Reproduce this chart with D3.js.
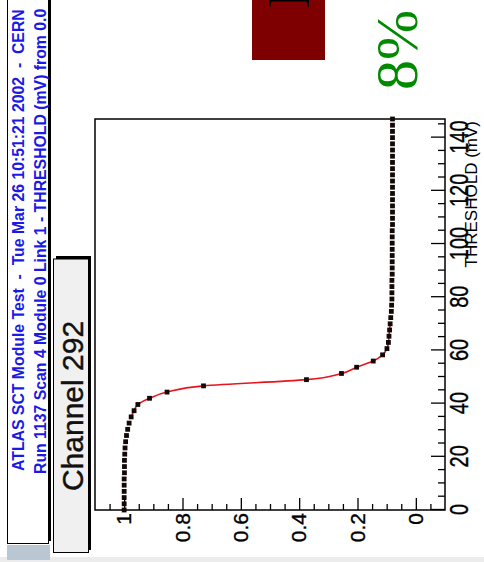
<!DOCTYPE html>
<html>
<head>
<meta charset="utf-8">
<script src="https://cdn.jsdelivr.net/npm/d3@7"></script>
<style>
  html, body { margin: 0; padding: 0; background: #fff; overflow: hidden; }
  svg { display: block; }
  text { white-space: pre; }
</style>
</head>
<body>
<svg id="chart" width="484" height="562"></svg>
<script>
// Threshold scan of one strip: occupancy vs. threshold (mV)
const thresholds = [0, 2.33, 4.67, 7, 9.33, 11.67, 14, 16.33, 18.67, 21, 23.33, 25.67,
  28, 30.33, 32.67, 35, 37.33, 39.67, 42, 44.33, 46.67, 49, 51.33, 53.67, 56, 58.33,
  60.67, 63, 65.33, 67.67, 70, 72.33, 74.67, 77, 79.33, 81.67, 84, 86.33, 88.67, 91,
  93.33, 95.67, 98, 100.33, 102.67, 105, 107.33, 109.67, 112, 114.33, 116.67, 119,
  121.33, 123.67, 126, 128.33, 130.67, 133, 135.33, 137.67, 140, 142.33, 144.67, 147];

const occupancy = [1.000, 1.000, 1.000, 1.000, 1.000, 1.000, 0.999, 0.999, 0.999, 0.998,
  0.997, 0.995, 0.992, 0.988, 0.983, 0.976, 0.966, 0.953, 0.913, 0.853, 0.728, 0.375,
  0.255, 0.203, 0.146, 0.114, 0.099, 0.094, 0.092, 0.090, 0.088, 0.086, 0.084, 0.083,
  0.082, 0.082, 0.082, 0.082, 0.081, 0.081, 0.081, 0.081, 0.081, 0.081, 0.081, 0.081,
  0.080, 0.080, 0.080, 0.080, 0.080, 0.080, 0.080, 0.080, 0.080, 0.080, 0.080, 0.080,
  0.080, 0.080, 0.080, 0.080, 0.080, 0.080];

// Range of thresholds covered by the error-function fit
const fitRange = [35, 70];

const thresholdTicks = [0, 20, 40, 60, 80, 100, 120, 140];
const occupancyTicks = [0, 0.2, 0.4, 0.6, 0.8, 1];

const titleLines = [
  "ATLAS SCT Module Test  -  Tue Mar 26 10:51:21 2002  -  CERN",
  "Run 1137 Scan 4 Module 0 Link 1 - THRESHOLD (mV) from 0.0"
];
const channelLabel = "Channel 292";
const flagLabel = "I";
const fractionLabel = "8%";
const xTitle = "THRESHOLD (mV)";

const SANS = "'Liberation Sans', Arial, Helvetica, sans-serif";
const SERIF = "'Liberation Serif', 'Times New Roman', serif";

// The canvas is drawn in landscape and turned a quarter turn anticlockwise
const W = 562, H = 484;
const svg = d3.select("#chart");
const g = svg.append("g").attr("transform", `translate(0,${W}) rotate(-90)`);

const x = d3.scaleLinear().domain([0, 147]).range([52, 443]);
const y = d3.scaleLinear().domain([-0.1, 1.1]).range([445, 95]);

// page strips
g.append("rect").attr("x", 0).attr("y", 0).attr("width", 5).attr("height", H).attr("fill", "#ececec");
g.append("rect").attr("x", 2).attr("y", 7).attr("width", 15).attr("height", 43).attr("fill", "#b9c7d3");

// title pave
g.append("rect").attr("x", 21).attr("y", 48).attr("width", 600).attr("height", 3).attr("fill", "#000");
g.append("rect").attr("x", 18.5).attr("y", 7.5).attr("width", 600).attr("height", 41)
  .attr("fill", "#fff").attr("stroke", "#000").attr("stroke-width", 1);
g.selectAll("text.title").data(titleLines).join("text")
  .attr("class", "title")
  .attr("x", (d, i) => i === 0 ? 91 : 88)
  .attr("y", (d, i) => i === 0 ? 18 : 40)
  .attr("dy", "0.36em")
  .attr("font-family", SANS).attr("font-weight", "bold").attr("font-size", 15.8)
  .attr("fill", "#1a1ae6")
  .text(d => d);

// channel pave
g.append("rect").attr("x", 303).attr("y", 56).attr("width", 3).attr("height", 35).attr("fill", "#000");
g.append("rect").attr("x", 12).attr("y", 88).attr("width", 294).attr("height", 3).attr("fill", "#000");
g.append("rect").attr("x", 9.5).attr("y", 53.5).attr("width", 293.5).attr("height", 35)
  .attr("fill", "#f0f0f0").attr("stroke", "#000").attr("stroke-width", 1);
g.append("text").attr("x", 156).attr("y", 72).attr("dy", "0.36em")
  .attr("text-anchor", "middle")
  .attr("font-family", SANS).attr("font-size", 30).attr("fill", "#111")
  .attr("stroke", "#111").attr("stroke-width", 0.4)
  .text(channelLabel);

// status box and fraction
g.append("rect").attr("x", 502).attr("y", 252).attr("width", 80).attr("height", 73).attr("fill", "#7f0000");
g.append("text").attr("x", 553).attr("y", 309)
  .attr("font-family", SERIF).attr("font-size", 62).attr("fill", "#000")
  .text(flagLabel);
g.append("text").attr("x", 472).attr("y", 417)
  .attr("font-family", SERIF).attr("font-size", 60).attr("fill", "#008a00")
  .text(fractionLabel);

// plot frame
g.append("rect").attr("x", x.range()[0]).attr("y", y.range()[1])
  .attr("width", x.range()[1] - x.range()[0]).attr("height", y.range()[0] - y.range()[1])
  .attr("fill", "#fff").attr("stroke", "#000").attr("stroke-width", 1.5);

// occupancy axis (ticks inside the frame)
const yMinor = d3.range(-1, 22).map(k => +(k * 0.05).toFixed(2)).filter(v => !occupancyTicks.includes(v));
g.append("g").attr("transform", `translate(${x.range()[0]},0)`)
  .call(d3.axisLeft(y).tickValues(yMinor).tickSize(-6).tickFormat(""))
  .call(a => a.select(".domain").remove())
  .call(a => a.selectAll("line").attr("stroke", "#000").attr("stroke-width", 1.3));
g.append("g").attr("transform", `translate(${x.range()[0]},0)`)
  .call(d3.axisLeft(y).tickValues(occupancyTicks).tickSize(-12).tickPadding(3)
    .tickFormat(d => String(+d.toFixed(1))))
  .call(a => a.select(".domain").remove())
  .call(a => a.selectAll("line").attr("stroke", "#000").attr("stroke-width", 1.3))
  .call(a => a.selectAll("text").attr("font-family", SANS).attr("font-size", 21).attr("fill", "#000")
    .attr("stroke", "#000").attr("stroke-width", 0.35));

// threshold axis (ticks inside the frame)
const xMinor = d3.range(1, 30).map(k => k * 5).filter(v => !thresholdTicks.includes(v));
g.append("g").attr("transform", `translate(0,${y.range()[0]})`)
  .call(d3.axisBottom(x).tickValues(xMinor).tickSize(-7).tickFormat(""))
  .call(a => a.select(".domain").remove())
  .call(a => a.selectAll("line").attr("stroke", "#000").attr("stroke-width", 1.3));
g.append("g").attr("transform", `translate(0,${y.range()[0]})`)
  .call(d3.axisBottom(x).tickValues(thresholdTicks).tickSize(-14).tickPadding(4).tickFormat(d3.format("d")))
  .call(a => a.select(".domain").remove())
  .call(a => a.selectAll("line").attr("stroke", "#000").attr("stroke-width", 1.3))
  .call(a => a.selectAll("text").attr("font-family", SANS).attr("font-size", 20).attr("fill", "#000")
    .attr("stroke", "#000").attr("stroke-width", 0.3)
    .attr("transform", "scale(1,1.25)"));

g.append("text").attr("x", 441).attr("y", 477).attr("text-anchor", "end")
  .attr("font-family", SANS).attr("font-size", 17).attr("fill", "#000")
  .text(xTitle);

// data
const points = thresholds.map((t, i) => ({ t, v: occupancy[i] }));
const fitPoints = points.filter(p => p.t >= fitRange[0] && p.t <= fitRange[1]);

g.append("path").datum(fitPoints)
  .attr("fill", "none").attr("stroke", "#e8141e").attr("stroke-width", 1.6)
  .attr("d", d3.line().x(p => x(p.t)).y(p => y(p.v)).curve(d3.curveMonotoneX));

const m = 4.8;
g.selectAll("rect.pt").data(points).join("rect")
  .attr("class", "pt")
  .attr("x", p => x(p.t) - m / 2).attr("y", p => y(p.v) - m / 2)
  .attr("width", m).attr("height", m)
  .attr("fill", "#120808");
</script>
</body>
</html>
